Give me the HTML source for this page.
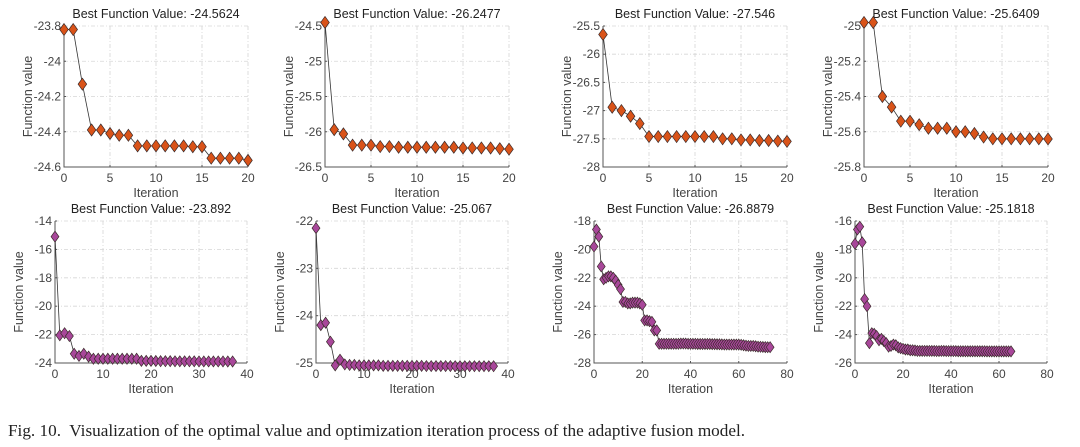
<!DOCTYPE html>
<html><head><meta charset="utf-8">
<style>
html,body{margin:0;padding:0;background:#fff;}
body{width:1080px;height:447px;overflow:hidden;position:relative;}
svg{position:absolute;left:0;top:0;}
.cap{position:absolute;left:8px;top:421px;font-family:"Liberation Serif",serif;font-size:17.2px;color:#222;}
</style></head><body>
<svg id="fig" width="1080" height="447"></svg>
<div class="cap">Fig. 10.&nbsp; Visualization of the optimal value and optimization iteration process of the adaptive fusion model.</div>
<script>
const titles1 = ["Best Function Value: -24.5624","Best Function Value: -26.2477","Best Function Value: -27.546","Best Function Value: -25.6409"];
const titles2 = ["Best Function Value: -23.892","Best Function Value: -25.067","Best Function Value: -26.8879","Best Function Value: -25.1818"];
const s1 = [-23.82,-23.82,-24.13,-24.39,-24.39,-24.41,-24.42,-24.42,-24.48,-24.48,-24.48,-24.48,-24.48,-24.48,-24.485,-24.485,-24.55,-24.55,-24.55,-24.55,-24.5624];
const s2 = [-24.45,-25.97,-26.03,-26.19,-26.19,-26.19,-26.21,-26.21,-26.22,-26.22,-26.22,-26.22,-26.22,-26.22,-26.22,-26.23,-26.23,-26.23,-26.23,-26.24,-26.2477];
const s3 = [-25.65,-26.94,-27.0,-27.1,-27.23,-27.46,-27.46,-27.46,-27.46,-27.46,-27.46,-27.46,-27.46,-27.5,-27.5,-27.52,-27.52,-27.53,-27.53,-27.54,-27.546];
const s4 = [-24.98,-24.98,-25.40,-25.46,-25.54,-25.54,-25.56,-25.58,-25.58,-25.58,-25.60,-25.60,-25.61,-25.63,-25.64,-25.64,-25.64,-25.64,-25.64,-25.64,-25.6409];
const s5 = [-15.1,-22.05,-21.9,-22.1,-23.35,-23.5,-23.35,-23.55,-23.7,-23.7,-23.7,-23.7,-23.7,-23.7,-23.7,-23.7,-23.7,-23.7,-23.85,-23.85,-23.85,-23.86,-23.87,-23.87,-23.87,-23.88,-23.88,-23.88,-23.88,-23.88,-23.89,-23.89,-23.89,-23.89,-23.89,-23.89,-23.892,-23.892];
const s6 = [-22.15,-24.2,-24.15,-24.55,-25.05,-24.93,-25.03,-25.04,-25.04,-25.05,-25.05,-25.05,-25.05,-25.05,-25.06,-25.06,-25.06,-25.06,-25.06,-25.06,-25.06,-25.06,-25.06,-25.065,-25.065,-25.065,-25.065,-25.065,-25.065,-25.067,-25.067,-25.067,-25.067,-25.067,-25.067,-25.067,-25.067,-25.067];
const s7 = [-19.8,-18.6,-19.1,-21.2,-22.1,-22.0,-21.9,-21.9,-22.0,-22.2,-22.5,-22.8,-23.7,-23.7,-23.8,-23.8,-23.75,-23.75,-23.75,-23.8,-23.9,-25.0,-25.0,-25.05,-25.1,-25.7,-25.7,-26.65,-26.65,-26.65,-26.65,-26.65,-26.65,-26.65,-26.65,-26.65,-26.63,-26.63,-26.63,-26.65,-26.65,-26.65,-26.65,-26.66,-26.66,-26.66,-26.66,-26.66,-26.66,-26.67,-26.67,-26.68,-26.68,-26.69,-26.7,-26.7,-26.7,-26.7,-26.7,-26.7,-26.7,-26.72,-26.75,-26.78,-26.8,-26.8,-26.8,-26.82,-26.85,-26.86,-26.87,-26.88,-26.885,-26.8879];
const s8 = [-17.6,-16.6,-16.4,-17.5,-21.5,-22.0,-24.6,-23.9,-23.95,-24.1,-24.4,-24.3,-24.45,-24.6,-24.85,-24.8,-24.7,-24.75,-24.9,-24.95,-25.0,-25.05,-25.05,-25.1,-25.1,-25.12,-25.15,-25.15,-25.15,-25.15,-25.15,-25.15,-25.15,-25.15,-25.16,-25.16,-25.15,-25.15,-25.16,-25.16,-25.16,-25.16,-25.16,-25.17,-25.17,-25.17,-25.17,-25.17,-25.17,-25.17,-25.17,-25.17,-25.17,-25.17,-25.17,-25.18,-25.18,-25.18,-25.18,-25.18,-25.18,-25.18,-25.18,-25.18,-25.18,-25.1818];
const xt1 = [0,5,10,15,20];
const xt2 = [0,10,20,30,40];
const xt3 = [0,20,40,60,80];
const yt1 = [-24.6,-24.4,-24.2,-24,-23.8];
const yt2 = [-26.5,-26,-25.5,-25,-24.5];
const yt3 = [-28,-27.5,-27,-26.5,-26,-25.5];
const yt4 = [-25.8,-25.6,-25.4,-25.2,-25];
const yt5 = [-24,-22,-20,-18,-16,-14];
const yt6 = [-25,-24,-23,-22];
const yt7 = [-28,-26,-24,-22,-20,-18];
const yt8 = [-26,-24,-22,-20,-18,-16];

const panels = [
 {t:titles1[0],d:s1,xt:xt1,yt:yt1,l:64,w:184,top:26,b:167,c:"#d95319",m:6},
 {t:titles1[1],d:s2,xt:xt1,yt:yt2,l:325,w:184,top:26,b:167,c:"#d95319",m:6},
 {t:titles1[2],d:s3,xt:xt1,yt:yt3,l:603,w:184,top:26,b:167,c:"#d95319",m:6},
 {t:titles1[3],d:s4,xt:xt1,yt:yt4,l:864,w:184,top:26,b:167,c:"#d95319",m:6},
 {t:titles2[0],d:s5,xt:xt2,yt:yt5,l:55,w:192,top:221,b:363,c:"#a8479a",m:5.5},
 {t:titles2[1],d:s6,xt:xt2,yt:yt6,l:316,w:192,top:221,b:363,c:"#a8479a",m:5.5},
 {t:titles2[2],d:s7,xt:xt3,yt:yt7,l:594,w:193,top:221,b:363,c:"#a8479a",m:5.5},
 {t:titles2[3],d:s8,xt:xt3,yt:yt8,l:855,w:192,top:221,b:363,c:"#a8479a",m:5.5}
];
const NS="http://www.w3.org/2000/svg";
const svg=document.getElementById('fig');
function mk(tag,attrs,parent){const e=document.createElementNS(NS,tag);for(const k in attrs)e.setAttribute(k,attrs[k]);(parent||svg).appendChild(e);return e;}
panels.forEach((p,i)=>{
 const g=mk('g',{});
 
 
 const x0=p.xt[0],x1=p.xt[p.xt.length-1],y0=p.yt[0],y1=p.yt[p.yt.length-1];
 const X=v=>p.l+(v-x0)/(x1-x0)*p.w;
 const Y=v=>p.b-(v-y0)/(y1-y0)*(p.b-p.top);
 const F='font-family:"Liberation Sans",sans-serif;';
 p.xt.forEach(v=>{if(v!==x0){const l=mk('line',{x1:X(v),x2:X(v),y1:p.top,y2:p.b,stroke:'#d6d6d6','stroke-dasharray':'4 2 1 2','stroke-width':0.8},g);}});
 p.yt.forEach(v=>{if(v!==y0){const l=mk('line',{x1:p.l,x2:p.l+p.w,y1:Y(v),y2:Y(v),stroke:'#d6d6d6','stroke-dasharray':'4 2 1 2','stroke-width':0.8},g);}});
 const ax=mk('path',{d:`M${p.l},${p.top}V${p.b}H${p.l+p.w}`,fill:'none',stroke:'#555','stroke-width':1},g);
 
 p.xt.forEach(v=>{mk('line',{x1:X(v),x2:X(v),y1:p.b,y2:p.b-2,stroke:'#555'},g);
  const t=mk('text',{x:X(v),y:p.b+15,'text-anchor':'middle',style:F+'font-size:12px;fill:#444'},g);t.textContent=v;
  });
 p.yt.forEach(v=>{mk('line',{x1:p.l,x2:p.l+2,y1:Y(v),y2:Y(v),stroke:'#555'},g);
  const t=mk('text',{x:p.l-3,y:Y(v)+4,'text-anchor':'end',style:F+'font-size:12px;fill:#444'},g);t.textContent=v;
  });
 const tt=mk('text',{x:p.l+p.w/2,y:p.top-8,'text-anchor':'middle',style:F+'font-size:12.5px;fill:#222'},g);tt.textContent=p.t;
 
 const xl=mk('text',{x:p.l+p.w/2,y:p.b+30,'text-anchor':'middle',style:F+'font-size:12.5px;fill:#444'},g);xl.textContent='Iteration';
 
 const yx=p.l-32,yy=(p.top+p.b)/2;
 const yl=mk('text',{x:yx,y:yy,'text-anchor':'middle',transform:`rotate(-90 ${yx} ${yy})`,style:F+'font-size:12.5px;fill:#444'},g);yl.textContent='Function value';
 
 const pts=p.d.map((v,k)=>[X(k),Y(v)]);
 const ln=mk('polyline',{points:pts.map(q=>q.join(',')).join(' '),fill:'none',stroke:'#333','stroke-width':0.8},g);
 
 const hw=p.m*0.72,hh=p.m;
 pts.forEach(q=>{const d=mk('path',{d:`M${q[0]},${q[1]-hh}L${q[0]+hw},${q[1]}L${q[0]},${q[1]+hh}L${q[0]-hw},${q[1]}Z`,fill:p.c,stroke:'#3a2a2a','stroke-width':0.7},g);
  });
});
</script>
</body></html>
